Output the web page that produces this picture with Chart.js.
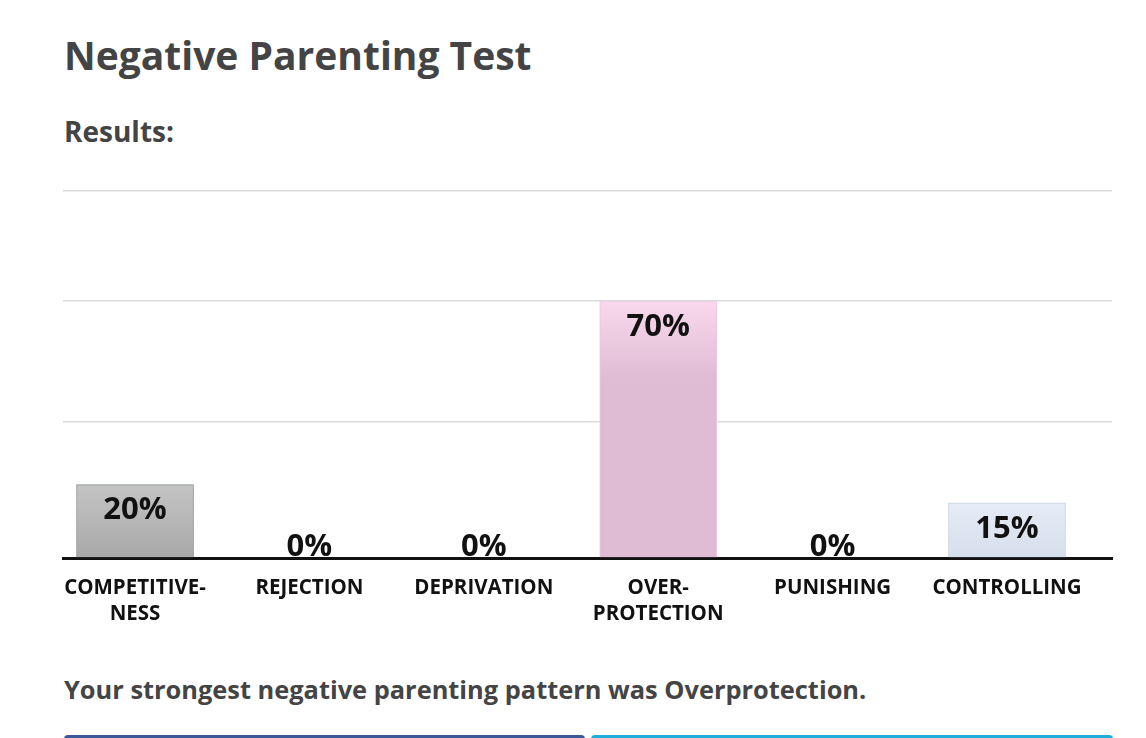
<!DOCTYPE html>
<html>
<head>
<meta charset="utf-8">
<script src="https://cdn.jsdelivr.net/npm/chart.js@4.4.0/dist/chart.umd.min.js"></script>
<style>
  body { margin: 0; background: #fff; font-family: "Open Sans", sans-serif; color: #444; }
  #page { position: relative; width: 1146px; height: 738px; overflow: hidden; }
  h1 { position: absolute; left: 64px; top: 28px; margin: 0; font-size: 39px; font-weight: 700; line-height: 54px; }
  h2 { position: absolute; left: 64px; top: 112px; margin: 0; font-size: 28px; font-weight: 700; line-height: 38px; }
  #wrap { position: absolute; left: 0; top: 181px; width: 1146px; height: 460px; }
  #result { position: absolute; left: 64px; top: 672px; margin: 0; font-size: 25.4px; font-weight: 700; line-height: 34px; }
  .btn { position: absolute; top: 735px; height: 20px; border-radius: 4px; }
</style>
</head>
<body>
<div id="page">
  <h1>Negative Parenting Test</h1>
  <h2>Results:</h2>
  <div id="wrap"><canvas id="chart"></canvas></div>
  <p id="result">Your strongest negative parenting pattern was Overprotection.</p>
  <div class="btn" style="left:64px;width:521px;background:#3b5998"></div>
  <div class="btn" style="left:591px;width:522px;background:#1eaed9"></div>
</div>
<script>
// values
var categories = [['COMPETITIVE-', 'NESS'], ['REJECTION'], ['DEPRIVATION'], ['OVER-', 'PROTECTION'], ['PUNISHING'], ['CONTROLLING']];
var scores = [20, 0, 0, 70, 0, 15];
var gridValues = [0, 37, 70, 100];

// gradient top/bottom and border for each bar
var topColors = ['#c4c4c4', '#ccc', '#ccc', '#f9d8ee', '#ccc', '#e6ecf8'];
var bottomColors = ['#a8a8a8', '#aaa', '#aaa', '#dfbcd3', '#aaa', '#d5deeb'];
var borderColors = ['#869286', '#999', '#999', '#e9c9dd', '#999', '#c6d0e0'];

var points = scores.map(function (v, i) { return { x: i, y: v }; });

var valueLabels = {
  id: 'valueLabels',
  afterDatasetsDraw: function (chart) {
    var ctx = chart.ctx;
    var meta = chart.getDatasetMeta(0);
    var base = chart.chartArea.bottom;
    ctx.save();
    ctx.font = 'bold 31px "Open Sans"';
    ctx.fillStyle = '#111';
    ctx.textAlign = 'center';
    ctx.textBaseline = 'middle';
    meta.data.forEach(function (bar, i) {
      var y = Math.min(bar.y + 26, base - 11);
      ctx.fillText(scores[i] + '%', bar.x, y);
    });
    ctx.restore();
  }
};

new Chart(document.getElementById('chart'), {
  type: 'bar',
  data: {
    datasets: [{
      data: points,
      barThickness: 117,
      borderWidth: 1,
      borderSkipped: 'bottom',
      borderColor: borderColors,
      backgroundColor: function (c) {
        var area = c.chart.chartArea;
        if (!area) return topColors[c.dataIndex];
        var y = c.chart.scales.y;
        var top = y.getPixelForValue(scores[c.dataIndex]);
        var g = c.chart.ctx.createLinearGradient(0, top, 0, Math.max(top + 1, area.bottom));
        g.addColorStop(0, topColors[c.dataIndex]);
        if (c.dataIndex === 3) {
          g.addColorStop(0.3, bottomColors[c.dataIndex]);
        }
        g.addColorStop(1, bottomColors[c.dataIndex]);
        return g;
      }
    }]
  },
  options: {
    responsive: true,
    maintainAspectRatio: false,
    animation: false,
    layout: { padding: { top: 10, left: 63, right: 34, bottom: 0 } },
    plugins: { legend: { display: false }, tooltip: { enabled: false } },
    scales: {
      x: {
        type: 'linear',
        offset: false,
        min: -0.413,
        max: 5.602,
        afterBuildTicks: function (s) { s.ticks = categories.map(function (c, i) { return { value: i }; }); },
        afterFit: function (s) { s.height = 83; },
        grid: { display: false },
        border: { display: true, color: '#111', width: 3 },
        ticks: {
          autoSkip: false,
          maxRotation: 0,
          padding: 9,
          color: '#111',
          font: { family: 'Open Sans', size: 20.5, weight: 'bold', lineHeight: 1.27 },
          callback: function (v) { return categories[v]; }
        }
      },
      y: {
        min: 0,
        max: 100,
        afterBuildTicks: function (s) { s.ticks = gridValues.map(function (v) { return { value: v }; }); },
        afterFit: function (s) { s.width = 0; },
        border: { display: false },
        grid: { color: '#dcdcdc', lineWidth: 1.5, drawTicks: false },
        ticks: { display: false }
      }
    }
  },
  plugins: [valueLabels]
});
</script>
</body>
</html>
